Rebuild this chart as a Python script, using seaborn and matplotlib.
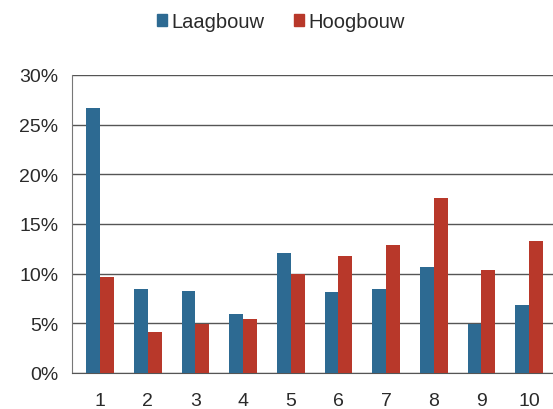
import pandas as pd
import numpy as np
import matplotlib
matplotlib.use("Agg")
import matplotlib.pyplot as plt
import seaborn as sns
from matplotlib.ticker import PercentFormatter, FixedLocator

# values (percent)
categories = ["1", "2", "3", "4", "5", "6", "7", "8", "9", "10"]
laagbouw = [26.7, 8.4, 8.2, 5.9, 12.1, 8.1, 8.4, 10.7, 4.9, 6.8]
hoogbouw = [9.7, 4.1, 4.9, 5.4, 10.0, 11.8, 12.9, 17.6, 10.4, 13.3]
series = ["Laagbouw", "Hoogbouw"]
colors = ["#2d6a92", "#b8382a"]

df = pd.DataFrame({
    "cat": categories * 2,
    "reeks": [series[0]] * len(categories) + [series[1]] * len(categories),
    "pct": laagbouw + hoogbouw,
})

sns.set_style("white")
plt.rcParams["font.family"] = ["Liberation Sans", "DejaVu Sans"]

fig = plt.figure(figsize=(5.53, 4.10), dpi=100)
ax = fig.add_axes([0.131, 0.088, 0.869, 0.727])

sns.barplot(data=df, x="cat", y="pct", hue="reeks", order=categories,
            hue_order=series, palette=colors, width=0.58, saturation=1,
            errorbar=None, linewidth=0, ax=ax, zorder=3)

ax.set_ylim(0, 30)
ax.set_xlim(-0.58, 9.38)
ax.yaxis.set_major_locator(FixedLocator([0, 5, 10, 15, 20, 25, 30]))
ax.yaxis.set_major_formatter(PercentFormatter(decimals=0))
ax.grid(axis="y", color="#555555", linewidth=1.0, zorder=0)
ax.set_axisbelow(True)

for side in ["top", "right"]:
    ax.spines[side].set_visible(False)
ax.spines["left"].set_color("#777777")
ax.spines["bottom"].set_color("#555555")

# x ticks sit between the groups, labels in the middle
ax.set_xticks(np.arange(-0.5, 10, 1))
ax.set_xticklabels([])
ax.set_xticks(range(len(categories)), minor=True)
ax.set_xticklabels(categories, minor=True)
ax.tick_params(axis="x", which="major", length=4, color="#777777", direction="out")
ax.tick_params(axis="x", which="minor", length=0, pad=14, labelsize=14, labelcolor="#2a2a2a")
ax.tick_params(axis="y", length=5, color="#777777", pad=5, labelsize=14, labelcolor="#2a2a2a")
ax.set_xlabel("")
ax.set_ylabel("")

ax.legend_.remove()
handles = [plt.Rectangle((0, 0), 1, 1, color=c) for c in colors]
fig.legend(handles, series, loc="center", bbox_to_anchor=(0.508, 0.945), ncol=2,
           frameon=False, fontsize=14.5, handlelength=0.5, handleheight=0.5,
           handletextpad=0.2, columnspacing=1.5, labelcolor="#2a2a2a")

fig.savefig("out.png", dpi=100)
